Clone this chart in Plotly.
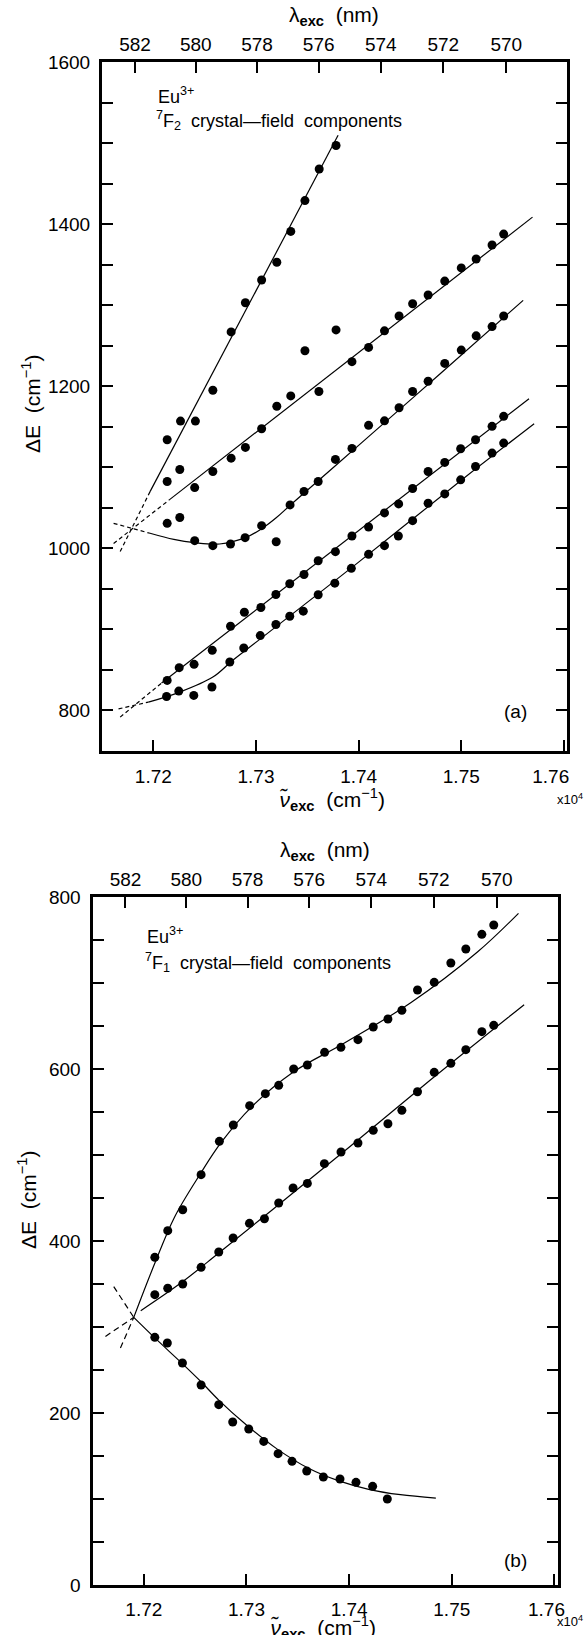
import plotly.graph_objects as go

W, H = 584, 1635

# ---------------- panel (a): 7F2 components ----------------
a1_x = [17213.5, 17226.5, 17241, 17258, 17275.8, 17289.7, 17305.5, 17320.3, 17333.9, 17347.7, 17361.6, 17378]
a1_y = [1134, 1157, 1157, 1195, 1267, 1303, 1331, 1353, 1391, 1429, 1468, 1497]

a2_x = [17213.5, 17225.8, 17240.3, 17258, 17275.8, 17289.7, 17305.5, 17320.3, 17333.9, 17347.7, 17361.3, 17378,
        17393.5, 17409.7, 17425.2, 17439.4, 17452.6, 17467.7, 17483.9, 17500, 17514.5, 17530, 17541.3]
a2_y = [1082.5, 1097.3, 1075, 1094.8, 1111.3, 1124.5, 1147.6, 1175.3, 1188.1, 1243.8, 1193.5, 1269.5,
        1230.3, 1247.9, 1268.3, 1286.7, 1301.8, 1312.5, 1329.7, 1346, 1357, 1374.2, 1387.7]

a3_x = [17213.5, 17225.8, 17240.3, 17258, 17275.2, 17289.4, 17305.5, 17319.7, 17333.2, 17346.8, 17360.6, 17377.4,
        17393.5, 17409.7, 17425.2, 17439.4, 17452.6, 17467.7, 17483.9, 17500, 17514.5, 17530, 17541.3]
a3_y = [1030.9, 1038, 1009.5, 1003.3, 1005.4, 1013.2, 1028, 1008.2, 1053.6, 1070.1, 1082.5, 1109.7,
        1123.3, 1151.8, 1157.3, 1173.4, 1193.5, 1206.1, 1228.2, 1244.6, 1262.2, 1273.6, 1286.7]

a4_x = [17213.5, 17225.2, 17239.7, 17257.4, 17275.2, 17288.7, 17304.8, 17319.4, 17332.9, 17346.8, 17360.6, 17377.4,
        17393.5, 17409.7, 17425.2, 17439, 17452.6, 17467.7, 17483.9, 17499.4, 17513.9, 17530, 17541.3]
a4_y = [837.1, 852.8, 856.9, 874.2, 903.9, 921.2, 927, 943.1, 956.3, 967.8, 984.7, 995.9,
        1015.3, 1026.4, 1043.7, 1054.8, 1073.8, 1094.8, 1106, 1122.9, 1134, 1150.5, 1162.9]

a5_x = [17212.9, 17224.8, 17239.4, 17257.1, 17274.5, 17288.1, 17304.2, 17319.4, 17332.9, 17346.1, 17360.6, 17376.8,
        17392.9, 17409.7, 17425.2, 17438.7, 17452.6, 17467.7, 17483.9, 17499.4, 17513.9, 17530, 17541.3]
a5_y = [817.3, 823.9, 818.6, 828.9, 859.8, 877.1, 892.4, 906, 916.3, 922.5, 942.7, 957.1,
        975.3, 992.6, 1003.3, 1015.3, 1034.2, 1055.7, 1067.2, 1084.5, 1101, 1117.5, 1129.9]

# fitted curves
fa1_x = [17196.8, 17380];   fa1_y = [1070, 1509.6]
fa1d_x = [17167.7, 17196.8]; fa1d_y = [996, 1070]
fa2_x = [17215.5, 17569.4]; fa2_y = [1059.8, 1408.6]
fa2d_x = [17161.3, 17215.5]; fa2d_y = [1006, 1059.8]
fa3_x = [17196.8, 17220, 17240.3, 17264.5, 17290.3, 17306.5, 17320, 17335.5, 17400, 17480, 17560.3]
fa3_y = [1018.6, 1011, 1007, 1005.4, 1013.5, 1025, 1038, 1055.7, 1127, 1216, 1305.9]
fa3d_x = [17161.3, 17196.8]; fa3d_y = [1030.9, 1018.6]
fa4_x = [17208, 17566];     fa4_y = [833.8, 1184.5]
fa4d_x = [17167.7, 17208];  fa4d_y = [791.8, 833.8]
fa5_x = [17195.2, 17225.8, 17258, 17277.4, 17304, 17400, 17500, 17571]
fa5_y = [810.3, 822.7, 841.2, 861.9, 888, 983, 1084, 1153.8]
fa5d_x = [17166.1, 17195.2]; fa5d_y = [802, 810.3]

# ---------------- panel (b): 7F1 components ----------------
b1_x = [17210.7, 17223.3, 17237.9, 17255.8, 17273.6, 17287.2, 17303.1, 17318.4, 17331.4, 17346, 17359.3, 17376.1,
        17392, 17408.6, 17423.5, 17437.8, 17451.4, 17466.6, 17482.9, 17499.1, 17513.7, 17529.3, 17540.9]
b1_y = [381, 412, 436.4, 477.1, 515.9, 534.9, 557.4, 571.3, 581, 600, 604.7, 619.4,
        625.2, 634.1, 648.8, 658.1, 668.2, 691.9, 700.8, 723.3, 739.5, 756.6, 767.4]

b2_x = [17210.7, 17223.3, 17237.9, 17255.8, 17273, 17287, 17302.9, 17317.5, 17331.4, 17345.4, 17359.3, 17375.9,
        17392.1, 17408.6, 17423.5, 17437.8, 17451.4, 17466.6, 17482.9, 17499.1, 17513.7, 17529.3, 17540.9]
b2_y = [337.6, 345, 350, 369.4, 387.2, 403.5, 420.5, 425.9, 444.2, 461.6, 467, 489.9,
        503.5, 514, 528.7, 536.4, 551.9, 573.6, 596.1, 606.6, 622.5, 643.4, 650.8]

b3_x = [17210.7, 17222.9, 17237.6, 17255.8, 17273, 17286.6, 17302.2, 17316.8, 17330.8, 17344.4, 17358.7, 17374.9,
        17391.1, 17406.7, 17422.9, 17437.2]
b3_y = [288, 281.4, 258.1, 232.6, 209.7, 189.5, 181.4, 167, 152.7, 143.8, 132.6, 125.6,
        123.3, 119.4, 114.7, 100]

fb1_x = [17190.2, 17210, 17230, 17255, 17275, 17305, 17345, 17395, 17460, 17525, 17565]
fb1_y = [311.2, 372, 428, 478, 514, 556, 596, 630, 677, 736, 781]
fb1d_x = [17177.2, 17190.2]; fb1d_y = [275.5, 311.2]
fb2_x = [17197, 17237, 17273, 17330, 17400, 17480, 17570.5]
fb2_y = [319, 352, 386, 441, 509, 588, 674.8]
fb2d_x = [17162.6, 17190.2]; fb2d_y = [289, 311.2]
fb3_x = [17190.2, 17211, 17237, 17256, 17273, 17300, 17330, 17360, 17390, 17420, 17450, 17484.5]
fb3_y = [311.2, 287, 258, 236, 215, 186, 158, 136, 121, 111, 105, 101]
fb3d_x = [17170.7, 17190.2]; fb3d_y = [347, 311.2]

# ---------------- ticks ----------------
nu_ticks = [17200, 17300, 17400, 17500, 17600]
nu_text = ["1.72", "1.73", "1.74", "1.75", "1.76"]
lam_ticks = [582, 580, 578, 576, 574, 572, 570]
ya_ticks = list(range(800, 1601, 50))
yb_ticks = list(range(0, 801, 50))

FONT = "Liberation Sans, Arial, Helvetica, sans-serif"
NB = "\u00a0"
fig = go.Figure()


def markers(x, y, xa, ya):
    fig.add_trace(go.Scatter(x=x, y=y, mode="markers", xaxis=xa, yaxis=ya,
                             marker=dict(color="black", size=9, line=dict(width=0)),
                             showlegend=False, hoverinfo="skip"))


def curve(x, y, xa, ya, dash="solid", spline=False):
    fig.add_trace(go.Scatter(x=x, y=y, mode="lines", xaxis=xa, yaxis=ya,
                             line=dict(color="black", width=1.2, dash=dash,
                                       shape="spline" if spline else "linear"),
                             showlegend=False, hoverinfo="skip"))


for xs, ys in [(a1_x, a1_y), (a2_x, a2_y), (a3_x, a3_y), (a4_x, a4_y), (a5_x, a5_y)]:
    markers(xs, ys, "x", "y")
curve(fa1_x, fa1_y, "x", "y")
curve(fa2_x, fa2_y, "x", "y")
curve(fa3_x, fa3_y, "x", "y", spline=True)
curve(fa4_x, fa4_y, "x", "y")
curve(fa5_x, fa5_y, "x", "y", spline=True)
for xs, ys in [(fa1d_x, fa1d_y), (fa2d_x, fa2d_y), (fa3d_x, fa3d_y), (fa4d_x, fa4d_y), (fa5d_x, fa5d_y)]:
    curve(xs, ys, "x", "y", dash="4px,3px")

for xs, ys in [(b1_x, b1_y), (b2_x, b2_y), (b3_x, b3_y)]:
    markers(xs, ys, "x3", "y2")
curve(fb1_x, fb1_y, "x3", "y2", spline=True)
curve(fb2_x, fb2_y, "x3", "y2", spline=True)
curve(fb3_x, fb3_y, "x3", "y2", spline=True)
for xs, ys in [(fb1d_x, fb1d_y), (fb2d_x, fb2d_y), (fb3d_x, fb3d_y)]:
    curve(xs, ys, "x3", "y2", dash="6px,4px")

# dummy traces so top axes render
fig.add_trace(go.Scatter(x=[17150], y=[None], xaxis="x2", yaxis="y", showlegend=False, hoverinfo="skip"))
fig.add_trace(go.Scatter(x=[17150], y=[None], xaxis="x4", yaxis="y2", showlegend=False, hoverinfo="skip"))


def px_x(p):
    return p / W


def px_y(p):
    return 1 - p / H


XR = [17150, 17603]
lam_pos = [1e7 / l for l in lam_ticks]
lam_text = [str(l) for l in lam_ticks]
# last bottom label sits slightly left of its tick in the original
nu_text_a = nu_text[:-1] + [nu_text[-1] + NB * 5]
nu_text_b = nu_text[:-1] + [nu_text[-1] + NB * 3]

common = dict(showgrid=False, zeroline=False, ticks="inside", ticklen=11, tickwidth=1.5,
              tickcolor="black", linecolor="black", automargin=False, ticklabeloverflow="allow",
              tickfont=dict(family=FONT, size=19, color="black"))

dom_a_x = [px_x(102), px_x(567)]
dom_a_y = [px_y(751), px_y(62)]
dom_b_x = [px_x(92.5), px_x(557.5)]
dom_b_y = [px_y(1585), px_y(897)]

fig.update_layout(
    width=W, height=H, template="none",
    margin=dict(l=0, r=0, t=0, b=0),
    paper_bgcolor="white", plot_bgcolor="white",
    showlegend=False,
    xaxis=dict(domain=dom_a_x, anchor="y", range=XR, tickvals=nu_ticks, ticktext=nu_text_a,
               showline=True, linewidth=3, mirror=True, ticklabelstandoff=6, **common),
    xaxis2=dict(overlaying="x", side="top", anchor="y", range=XR, tickvals=lam_pos,
                ticktext=lam_text, showline=False, ticklabelstandoff=6, **common),
    yaxis=dict(domain=dom_a_y, anchor="x", range=[750, 1600], tickvals=ya_ticks,
               ticktext=[str(v) if v % 200 == 0 else "" for v in ya_ticks],
               showline=True, linewidth=3, mirror="ticks", ticklabelstandoff=5, **common),
    xaxis3=dict(domain=dom_b_x, anchor="y2", range=XR, tickvals=nu_ticks, ticktext=nu_text_b,
                showline=True, linewidth=3, mirror=True, ticklabelstandoff=5, **common),
    xaxis4=dict(overlaying="x3", side="top", anchor="y2", range=XR, tickvals=lam_pos,
                ticktext=lam_text, showline=False, ticklabelstandoff=6, **common),
    yaxis2=dict(domain=dom_b_y, anchor="x3", range=[0, 800], tickvals=yb_ticks,
                ticktext=[str(v) if v % 200 == 0 else "" for v in yb_ticks],
                showline=True, linewidth=3, mirror="ticks", ticklabelstandoff=5, **common),
)


def label(text, x, y, size=20, angle=0, xanchor="center"):
    fig.add_annotation(text=text, x=px_x(x), y=px_y(y), xref="paper", yref="paper",
                       showarrow=False, textangle=angle, xanchor=xanchor, yanchor="middle",
                       font=dict(family=FONT, size=size, color="black"))


# panel a texts
label(f"λ<sub><b>exc</b></sub>{NB}{NB}(nm)", 334, 16, size=21)
label(f"ΔE{NB}{NB}(cm<sup>−1</sup>)", 31, 404, size=21, angle=-90)
label(f"<i>ν̃</i><sub><b>exc</b></sub>{NB}{NB}(cm<sup>−1</sup>)", 332, 799, size=21)
label("x10<sup>4</sup>", 570, 799, size=13)
label("(a)", 515, 712, size=19)
label("Eu<sup>3+</sup>", 156, 95, size=18, xanchor="left")
label(f"<sup>7</sup>F<sub>2</sub>{NB}{NB}crystal—field{NB}{NB}components", 154, 121, size=18, xanchor="left")

# panel b texts
label(f"λ<sub><b>exc</b></sub>{NB}{NB}(nm)", 325, 851, size=21)
label(f"ΔE{NB}{NB}(cm<sup>−1</sup>)", 27, 1200, size=21, angle=-90)
label(f"<i>ν̃</i><sub><b>exc</b></sub>{NB}{NB}(cm<sup>−1</sup>)", 323, 1627, size=21)
label("x10<sup>4</sup>", 570, 1621, size=13)
label("(b)", 515, 1560, size=19)
label("Eu<sup>3+</sup>", 145, 935, size=18, xanchor="left")
label(f"<sup>7</sup>F<sub>1</sub>{NB}{NB}crystal—field{NB}{NB}components", 143, 962, size=18, xanchor="left")

fig.write_html("out.html", config={"displayModeBar": False},
               post_script="document.body.style.margin='0';document.documentElement.style.overflow='hidden';")
